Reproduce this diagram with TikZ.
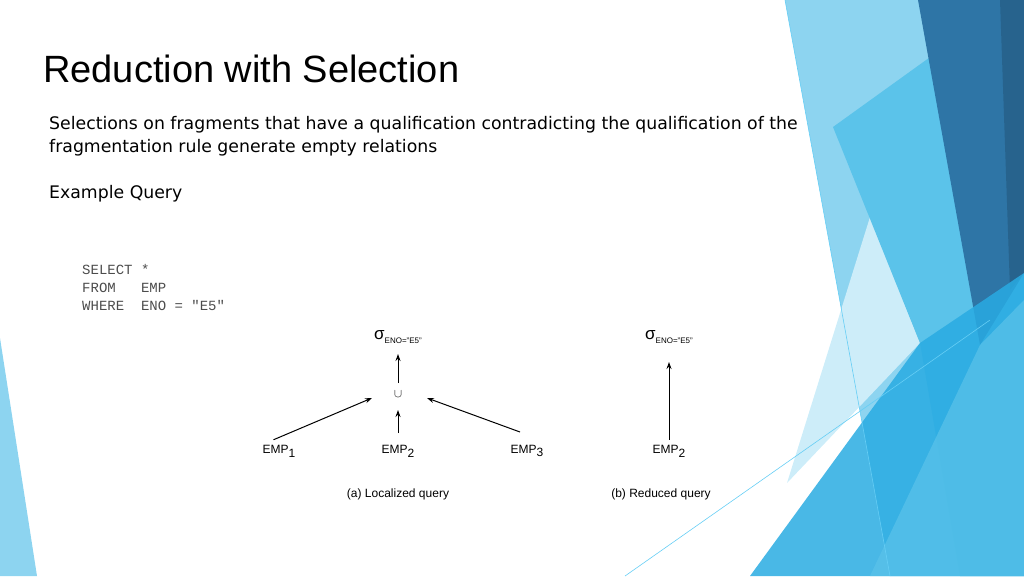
\documentclass[tikz,border=0pt]{standalone}
\usepackage{fontspec}
\setmainfont{Liberation Sans}
\newfontfamily\bodyfont{DejaVu Sans}
\newfontfamily\sqlfont{Liberation Mono}
\usetikzlibrary{arrows.meta}
\definecolor{lb}{HTML}{8DD4F0}
\definecolor{mb}{HTML}{5BC3EA}
\definecolor{db}{HTML}{2E75A6}
\definecolor{bb}{HTML}{29ABE2}
\definecolor{vl}{HTML}{CDEDF9}
\tikzset{lbl/.style={font=\fontsize{12}{14}\selectfont, inner sep=1pt},
 arr/.style={-{Stealth[length=7pt,width=5pt]}, line width=1pt},
 txt/.style={anchor=base west, inner sep=0pt}}
\newcommand{\sigq}{{\fontsize{17}{17}\selectfont σ}\raisebox{-0.5ex}{\fontsize{8}{9}\selectfont ENO="E5"}}
\begin{document}
\begin{tikzpicture}[x=1pt,y=-1pt]
\useasboundingbox (0,0) rectangle (1024,576);
% decorations
\fill[lb] (0,338) -- (37,576) -- (0,576) -- cycle;
\fill[lb] (785,0) -- (1024,0) -- (1024,576) -- (890,576) -- cycle;
\fill[vl] (870,217) -- (920,343) -- (787,483) -- cycle;
\fill[mb] (833,127) -- (940,50) -- (1024,150) -- (1024,576) -- (960,576) -- (920,343) -- cycle;
\fill[db] (918,0) -- (1024,0) -- (1024,273) -- (980,345) -- cycle;
\fill[db!85!black] (1000,0) -- (1024,0) -- (1024,273) -- (1010,290) -- cycle;
\fill[bb, opacity=0.85] (750,576) -- (920,343) -- (1024,273) -- (1024,576) -- cycle;
\fill[mb, opacity=0.7] (870,576) -- (980,345) -- (1024,300) -- (1024,576) -- cycle;
\draw[cyan!60, line width=0.6pt] (785,0) -- (890,576);
\draw[cyan!60, line width=0.6pt] (625,576) -- (990,320);
% texts
\node[txt, font=\fontsize{38}{44}\selectfont] (title) at (43,82) {Reduction with Selection};
\node[txt, font=\bodyfont\fontsize{17.3}{20}\selectfont] (l1) at (49,129) {Selections on fragments that have a qualification contradicting the qualification of the};
\node[txt, font=\bodyfont\fontsize{17.3}{20}\selectfont] (l2) at (49,152) {fragmentation rule generate empty relations};
\node[txt, font=\bodyfont\fontsize{17.3}{20}\selectfont] (l3) at (49,198) {Example Query};
\node[txt, font=\sqlfont\fontsize{14}{15}\selectfont, text=black!70] (q1) at (82,274) {SELECT *};
\node[txt, font=\sqlfont\fontsize{14}{15}\selectfont, text=black!70] (q2) at (82,292) {FROM\ \ \ EMP};
\node[txt, font=\sqlfont\fontsize{14}{15}\selectfont, text=black!70] (q3) at (82,310) {WHERE\ \ ENO = "E5"};
% diagram a
\node[lbl] (s1) at (398,337) {\sigq};
\node[lbl] (u) at (398,394) {$\cup$};
\node[lbl] (e1) at (279,451) {EMP\raisebox{-0.6ex}{1}};
\node[lbl] (e2) at (398,451) {EMP\raisebox{-0.6ex}{2}};
\node[lbl] (e3) at (527,451) {EMP\raisebox{-0.6ex}{3}};
\draw[arr] (e1.north west)++(12,-4) coordinate (c1) -- (372,398) coordinate (t1);
\draw[arr] (398,433) -- (398,410);
\draw[arr] (398,383) -- (398,354);
\draw[arr] (520,432) -- (427,398);
\node[lbl] (ca) at (398,494) {(a) Localized query};
% diagram b
\node[lbl] (s2) at (669,337) {\sigq};
\node[lbl] (f2) at (669,451) {EMP\raisebox{-0.6ex}{2}};
\draw[arr] (f2.north) ++(0,-4) -- (669,362);
\node[lbl] (cb) at (661,494) {(b) Reduced query};
\end{tikzpicture}
\end{document}
